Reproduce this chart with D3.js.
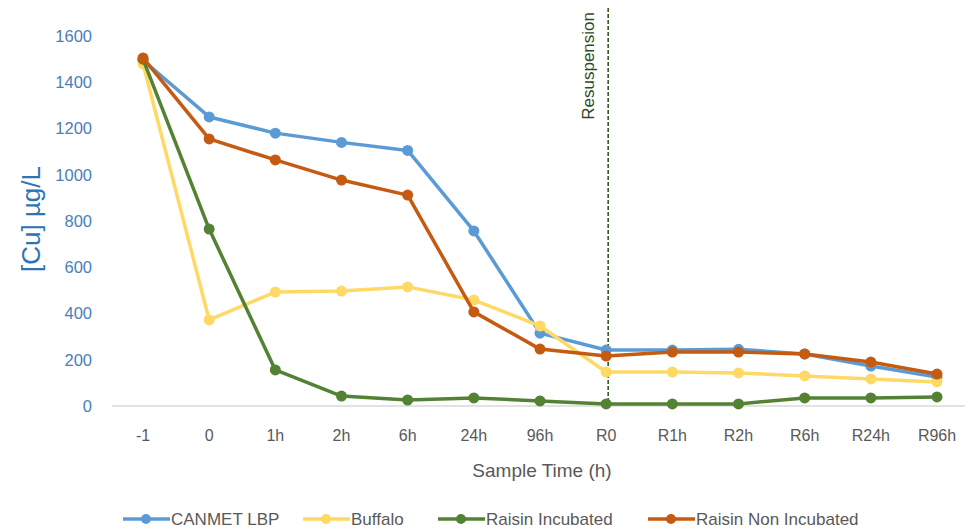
<!DOCTYPE html>
<html><head><meta charset="utf-8">
<script src="https://cdn.jsdelivr.net/npm/d3@7"></script>
<style>body{margin:0;background:#fff;} svg{display:block;}</style>
</head><body>
<script>
const categories = ["-1","0","1h","2h","6h","24h","96h","R0","R1h","R2h","R6h","R24h","R96h"];
const canmet = [1495,1250,1180,1140,1105,757,315,242,242,245,225,173,125];
const buffalo = [1480,372,493,497,515,458,346,147,147,143,130,117,104];
const raisinInc = [1500,765,156,43,26,35,22,9,9,9,35,35,39];
const raisinNon = [1505,1155,1064,977,912,407,246,216,233,233,225,190,138];
const yTicks = [0,200,400,600,800,1000,1200,1400,1600];
const seriesNames = ["CANMET LBP","Buffalo","Raisin Incubated","Raisin Non Incubated"];
const colors = ["#5b9bd5","#ffd966","#548235","#c55a11"];
const series = [canmet, buffalo, raisinInc, raisinNon];

const W=965,H=529;
const font = "'Liberation Sans',Arial,sans-serif";
const svg = d3.select("body").append("svg").attr("width",W).attr("height",H).style("font-family",font);

const x = d3.scalePoint().domain(categories).range([143,937]);
const y = d3.scaleLinear().domain([0,1600]).range([406,36]);

// y axis labels
svg.append("g").selectAll("text").data(yTicks).join("text")
  .attr("x",92).attr("y",d=>y(d)).attr("dy","0.35em").attr("text-anchor","end")
  .attr("fill","#4a7ebb").attr("font-size",16.5).text(d=>d);
svg.append("text").attr("transform","translate(40,219) rotate(-90)").attr("text-anchor","middle")
  .attr("fill","#2e75b6").attr("font-size",26).text("[Cu] µg/L");

// baseline
svg.append("line").attr("x1",112).attr("x2",968).attr("y1",y(0)).attr("y2",y(0))
  .attr("stroke","#d9d9d9").attr("stroke-width",1.5);

// x labels
svg.append("g").selectAll("text").data(categories).join("text")
  .attr("x",d=>x(d)).attr("y",441).attr("text-anchor","middle")
  .attr("fill","#595959").attr("font-size",16).text(d=>d);
svg.append("text").attr("x",542).attr("y",477).attr("text-anchor","middle")
  .attr("fill","#595959").attr("font-size",19).text("Sample Time (h)");

// resuspension line
const rx = x("R0")+2;
svg.append("line").attr("x1",rx).attr("x2",rx).attr("y1",8).attr("y2",y(0))
  .attr("stroke","#375623").attr("stroke-width",1.6).attr("stroke-dasharray","4,2");
svg.append("text").attr("transform",`translate(${rx-14},12) rotate(-90)`).attr("text-anchor","end")
  .attr("fill","#2f4a1e").attr("font-size",17).text("Resuspension");

// series
const line = d3.line().x((d,i)=>x(categories[i])).y(d=>y(d));
series.forEach((s,k)=>{
  const g = svg.append("g");
  g.append("path").datum(s).attr("d",line).attr("fill","none")
    .attr("stroke",colors[k]).attr("stroke-width",3.5).attr("stroke-linejoin","round");
  g.selectAll("circle").data(s).join("circle")
    .attr("cx",(d,i)=>x(categories[i])).attr("cy",d=>y(d)).attr("r",5.5).attr("fill",colors[k]);
});

// legend
const legX = [123,303,438,648];
const lg = svg.append("g");
seriesNames.forEach((n,k)=>{
  const g = lg.append("g").attr("transform",`translate(${legX[k]},519)`);
  g.append("line").attr("x1",0).attr("x2",47).attr("stroke",colors[k]).attr("stroke-width",3.5);
  g.append("circle").attr("cx",23).attr("r",5).attr("fill",colors[k]);
  g.append("text").attr("x",48).attr("dy","0.35em").attr("fill","#595959").attr("font-size",17).text(n);
});
</script>
</body></html>
